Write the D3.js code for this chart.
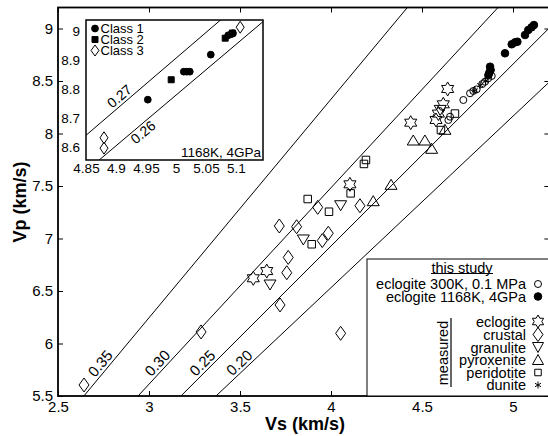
<!DOCTYPE html>
<html>
<head>
<meta charset="utf-8">
<script src="https://cdn.jsdelivr.net/npm/d3@7"></script>
<style>
  body { margin: 0; background: #fff; }
  svg { font-family: "Liberation Sans", Arial, Helvetica, sans-serif; }
</style>
</head>
<body>
<svg id="chart" width="548" height="436"></svg>
<script>
// ---- data (Vs, Vp in km/s) ----
const eclogite300K = [[4.645,8.129],[4.654,8.16],[4.727,8.319],[4.764,8.383],[4.782,8.405],[4.80,8.42],
  [4.831,8.471],[4.846,8.493],[4.864,8.526],[4.883,8.548]];
const eclogite1168K = [[4.865,8.557],[4.87,8.579],[4.877,8.605],[4.874,8.636],[4.956,8.764],[4.993,8.85],
  [5.011,8.868],[5.024,8.874],[5.066,8.938],[5.084,8.986],[5.102,9.011],[5.115,9.033]];
const measEclogite = [[3.573,6.621],[3.647,6.69],[4.104,7.516],[4.438,8.103],[4.641,8.424],[4.617,8.278],
  [4.59,8.19],[4.577,8.129]];
const measCrustal = [[2.643,5.605],[3.286,6.11],[3.72,6.367],[4.053,6.097],[3.716,7.119],[3.811,7.112],
  [3.765,6.82],[3.757,6.674],[3.952,6.98],[3.985,7.05],[3.927,7.297],[4.159,7.312]];
const measGranulite = [[3.665,6.557],[3.848,6.986],[4.053,7.312],[4.60,8.22]];
const measPyroxenite = [[4.452,7.938],[4.516,7.938],[4.553,7.859],[4.33,7.516],[4.232,7.36],[4.626,8.04]];
const measPeridotite = [[3.872,7.376],[3.989,7.255],[4.108,7.43],[4.192,7.748],[4.181,7.71],[3.894,6.945],
  [4.681,8.19],[4.604,8.033]];
const measDunite = [[4.79,8.41],[4.82,8.46],[4.85,8.50]];

// inset: 1168K, 4GPa
const class1 = [[4.953,8.764],[5.013,8.861],[5.018,8.861],[5.023,8.861],[5.058,8.92],[5.087,8.987],
  [5.092,8.991],[5.095,8.994]];
const class2 = [[4.992,8.833],[5.082,8.977],[5.094,8.995]];
const class3 = [[5.107,9.015],[4.88,8.632],[4.88,8.596]];

const poissonMain = [0.35, 0.30, 0.25, 0.20];
const poissonInset = [0.27, 0.26];
const xTicks = [2.5, 3, 3.5, 4, 4.5, 5];
const yTicks = [5.5, 6, 6.5, 7, 7.5, 8, 8.5, 9];
const xTicksInset = [4.85, 4.9, 4.95, 5, 5.05, 5.1];
const yTicksInset = [8.6, 8.7, 8.8, 8.9, 9];

// ---- setup ----
const svg = d3.select('#chart');
const x = d3.scaleLinear().domain([2.5, 5.2]).range([58, 549.4]);
const y = d3.scaleLinear().domain([5.5, 9.2]).range([396, 7.5]);
const xi = d3.scaleLinear().domain([4.85, 5.145]).range([86, 263]);
const yi = d3.scaleLinear().domain([8.555, 9.04]).range([160, 20]);

const vpvs = nu => Math.sqrt((2 - 2 * nu) / (1 - 2 * nu));

// marker paths
const diamond = (w, h) => `M0,${-h}L${w},0L0,${h}L${-w},0Z`;
const triUp = (w, h) => `M0,${-h/2}L${w/2},${h/2}L${-w/2},${h/2}Z`;
const triDown = (w, h) => `M0,${h/2}L${w/2},${-h/2}L${-w/2},${-h/2}Z`;
const square = s => `M${-s/2},${-s/2}h${s}v${s}h${-s}Z`;
const star = r => {
  const pts = d3.range(12).map(i => {
    const a = (i * 30 - 90) * Math.PI / 180, rr = i % 2 ? r / Math.sqrt(3) : r;
    return [rr * Math.cos(a), rr * Math.sin(a)];
  });
  return 'M' + pts.map(p => p.join(',')).join('L') + 'Z';
};
const asterisk = r => d3.range(3).map(i => {
  const a = (i * 60 + 90) * Math.PI / 180, dx = r * Math.cos(a), dy = r * Math.sin(a);
  return `M${-dx},${-dy}L${dx},${dy}`;
}).join('');
const circle = r => `M${r},0A${r},${r} 0 1,1 ${-r},0A${r},${r} 0 1,1 ${r},0Z`;

function plot(g, data, xs, ys, d, fill) {
  g.selectAll(null).data(data).join('path')
    .attr('transform', p => `translate(${xs(p[0])},${ys(p[1])})`)
    .attr('d', d)
    .attr('fill', fill ? '#000' : 'none')
    .attr('stroke', '#000')
    .attr('stroke-width', 1);
}

svg.append('defs').append('clipPath').attr('id', 'clipMain')
  .append('rect').attr('x', 58).attr('y', 7.5).attr('width', 491.4).attr('height', 388.5);
svg.select('defs').append('clipPath').attr('id', 'clipInset')
  .append('rect').attr('x', 86).attr('y', 20).attr('width', 177).attr('height', 140);

// ---- Poisson ratio lines ----
const lines = svg.append('g').attr('clip-path', 'url(#clipMain)');
poissonMain.forEach(nu => {
  const k = vpvs(nu);
  lines.append('line')
    .attr('x1', x(2.5)).attr('y1', y(2.5 * k))
    .attr('x2', x(5.2)).attr('y2', y(5.2 * k))
    .attr('stroke', '#000').attr('stroke-width', 1);
  const vp = 5.76, ang = Math.atan2(y(6 * k) - y(5 * k), x(6) - x(5)) * 180 / Math.PI;
  lines.append('text')
    .attr('transform', `translate(${x(vp / k)},${y(vp)}) rotate(${ang})`)
    .attr('text-anchor', 'middle').attr('dy', -3)
    .attr('font-size', 15).text(nu.toFixed(2));
});

// ---- markers ----
const marks = svg.append('g').attr('clip-path', 'url(#clipMain)');
plot(marks, measCrustal, x, y, diamond(5, 7), false);
plot(marks, measGranulite, x, y, triDown(12, 10), false);
plot(marks, measPyroxenite, x, y, triUp(12, 10), false);
plot(marks, measPeridotite, x, y, square(7.5), false);
plot(marks, measEclogite, x, y, star(7), false);
plot(marks, eclogite300K, x, y, circle(3.5), false);
plot(marks, measDunite, x, y, asterisk(3.5), false);
plot(marks, eclogite1168K, x, y, circle(3.8), true);

// ---- axes ----
function styleAxis(g) {
  g.attr('font-size', 15).attr('font-family', null);
  g.select('.domain').remove();
  g.selectAll('.tick line').attr('stroke-width', 1);
}
svg.append('g').attr('transform', 'translate(0,396)')
  .call(d3.axisBottom(x).tickValues(xTicks).tickSize(-5).tickPadding(5).tickFormat(d => d))
  .call(styleAxis);
svg.append('g').attr('transform', 'translate(58,0)')
  .call(d3.axisLeft(y).tickValues(yTicks).tickSize(-5).tickPadding(5).tickFormat(d => d))
  .call(styleAxis);
svg.append('g').attr('transform', 'translate(0,7.5)')
  .call(d3.axisTop(x).tickValues(xTicks).tickSize(-5).tickFormat(''))
  .call(styleAxis);
svg.append('g').attr('transform', 'translate(549.4,0)')
  .call(d3.axisRight(y).tickValues(yTicks).tickSize(-5).tickFormat(''))
  .call(styleAxis);
svg.append('rect').attr('x', 58).attr('y', 7.5).attr('width', 491.4).attr('height', 388.5)
  .attr('fill', 'none').attr('stroke', '#000').attr('stroke-width', 1.8);

svg.append('text').attr('x', 305).attr('y', 430).attr('text-anchor', 'middle')
  .attr('font-size', 18).attr('font-weight', 'bold').text('Vs (km/s)');
svg.append('text').attr('transform', 'translate(26,202) rotate(-90)').attr('text-anchor', 'middle')
  .attr('font-size', 18).attr('font-weight', 'bold').text('Vp (km/s)');

// ---- legend ----
const leg = svg.append('g');
leg.append('rect').attr('x', 367).attr('y', 259).attr('width', 200).attr('height', 137)
  .attr('fill', '#fff').attr('stroke', '#000').attr('stroke-width', 1);
leg.append('text').attr('x', 462).attr('y', 268).attr('dy', '0.35em').attr('text-anchor', 'middle')
  .attr('font-size', 14.5).text('this study');
leg.append('line').attr('x1', 431).attr('x2', 493).attr('y1', 273.5).attr('y2', 273.5)
  .attr('stroke', '#000').attr('stroke-width', 1);
const legItems = [
  { label: 'eclogite 300K, 0.1 MPa', y: 284, d: circle(3.5), fill: false },
  { label: 'eclogite 1168K, 4GPa', y: 296.5, d: circle(3.8), fill: true },
  { label: 'eclogite', y: 321.5, d: star(6.5), fill: false },
  { label: 'crustal', y: 334.5, d: diamond(5, 7), fill: false },
  { label: 'granulite', y: 347.5, d: triDown(11, 10), fill: false },
  { label: 'pyroxenite', y: 359.5, d: triUp(11, 10), fill: false },
  { label: 'peridotite', y: 372.5, d: square(6.5), fill: false },
  { label: 'dunite', y: 385, d: asterisk(3.5), fill: false }
];
legItems.forEach(it => {
  leg.append('text').attr('x', 526).attr('y', it.y).attr('dy', '0.35em').attr('text-anchor', 'end')
    .attr('font-size', 14.5).text(it.label);
  leg.append('path').attr('transform', `translate(538,${it.y})`).attr('d', it.d)
    .attr('fill', it.fill ? '#000' : 'none').attr('stroke', '#000').attr('stroke-width', 1);
});
leg.append('text').attr('transform', 'translate(448,353) rotate(-90)').attr('text-anchor', 'middle')
  .attr('font-size', 14.5).text('measured');
leg.append('line').attr('x1', 451).attr('x2', 451).attr('y1', 318).attr('y2', 387)
  .attr('stroke', '#000').attr('stroke-width', 1.2);

// ---- inset ----
const inset = svg.append('g');
inset.append('rect').attr('x', 86).attr('y', 20).attr('width', 177).attr('height', 140)
  .attr('fill', '#fff');
const il = inset.append('g').attr('clip-path', 'url(#clipInset)');
poissonInset.forEach((nu, i) => {
  const k = vpvs(nu);
  il.append('line')
    .attr('x1', xi(4.85)).attr('y1', yi(4.85 * k))
    .attr('x2', xi(5.145)).attr('y2', yi(5.145 * k))
    .attr('stroke', '#000').attr('stroke-width', 1);
  const vp = i === 0 ? 8.755 : 8.67;
  const ang = Math.atan2(yi(5.1 * k) - yi(5 * k), xi(5.1) - xi(5)) * 180 / Math.PI;
  il.append('text')
    .attr('transform', `translate(${xi(vp / k)},${yi(vp)}) rotate(${ang})`)
    .attr('text-anchor', 'middle').attr('dy', i === 0 ? -3 : 12)
    .attr('font-size', 14).text(nu.toFixed(2));
});
plot(il, class1, xi, yi, circle(3.4), true);
plot(il, class2, xi, yi, square(6), true);
plot(il, class3, xi, yi, diamond(4, 6), false);

inset.append('g').attr('transform', 'translate(0,160)')
  .call(d3.axisBottom(xi).tickValues(xTicksInset).tickSize(0).tickPadding(3).tickFormat(d => d))
  .call(g => { styleAxis(g); g.attr('font-size', 13.5); });
inset.append('g').attr('transform', 'translate(86,0)')
  .call(d3.axisLeft(yi).tickValues(yTicksInset).tickSize(0).tickPadding(6).tickFormat(d => d))
  .call(g => { styleAxis(g); g.attr('font-size', 13.5); });
inset.append('rect').attr('x', 86).attr('y', 20).attr('width', 177).attr('height', 140)
  .attr('fill', 'none').attr('stroke', '#000').attr('stroke-width', 1.5);

const insetLeg = [
  { label: 'Class 1', y: 28.5, d: circle(3.4) , fill: true },
  { label: 'Class 2', y: 39.5, d: square(6), fill: true },
  { label: 'Class 3', y: 50.5, d: diamond(4, 5.5), fill: false }
];
insetLeg.forEach(it => {
  inset.append('path').attr('transform', `translate(95,${it.y})`).attr('d', it.d)
    .attr('fill', it.fill ? '#000' : 'none').attr('stroke', '#000').attr('stroke-width', 1);
  inset.append('text').attr('x', 100.5).attr('y', it.y).attr('dy', '0.35em')
    .attr('font-size', 13).text(it.label);
});
inset.append('text').attr('x', 261).attr('y', 157).attr('text-anchor', 'end')
  .attr('font-size', 13.5).text('1168K, 4GPa');
</script>
</body>
</html>
